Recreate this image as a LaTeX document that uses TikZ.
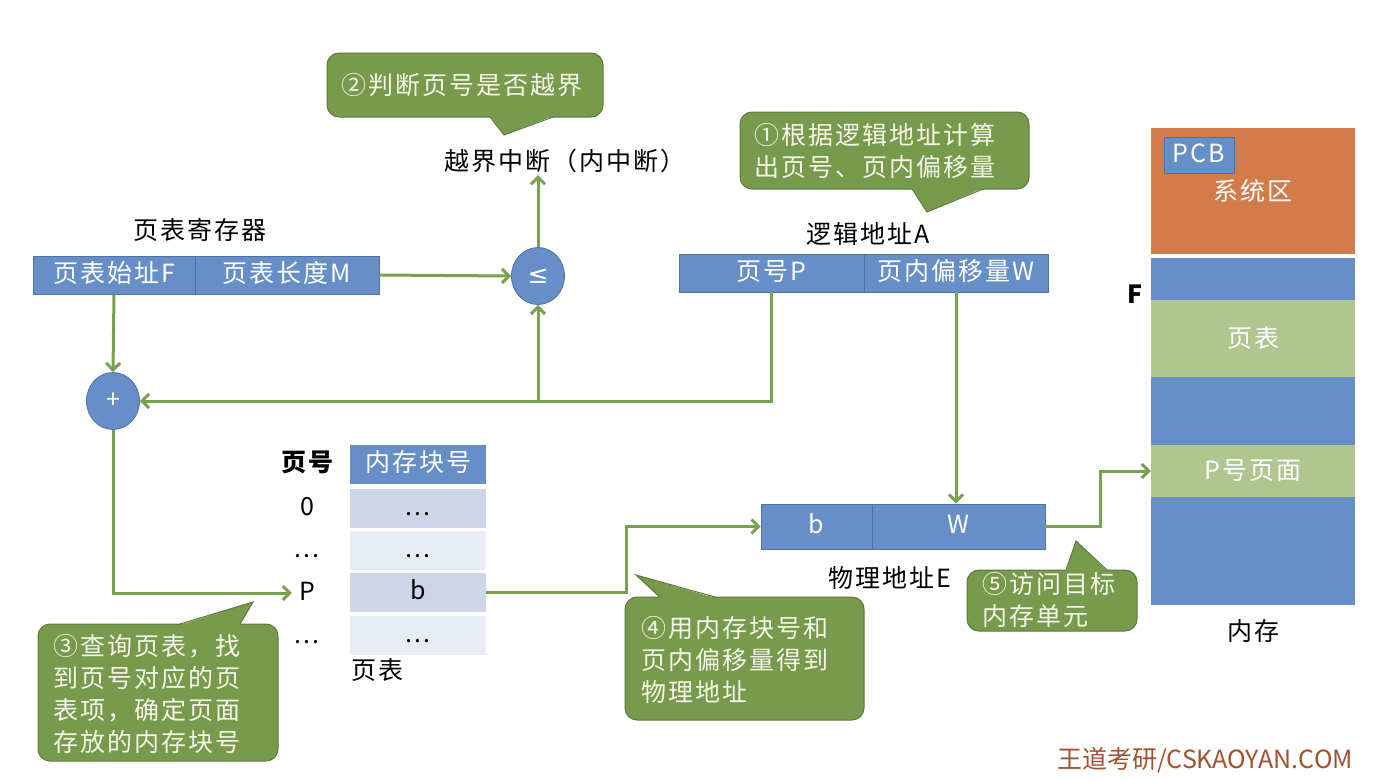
\documentclass[tikz,border=0pt]{standalone}
\usepackage{fontspec}
\setmainfont{Noto Sans CJK SC}[LetterSpace=8]
\newfontfamily\wmfont{Noto Sans CJK SC}
\newfontfamily\dv{DejaVu Sans}
\usetikzlibrary{arrows.meta,shapes.geometric}
\definecolor{bxblue}{RGB}{102,143,200}
\definecolor{bxedge}{RGB}{78,112,165}
\definecolor{cogreen}{RGB}{120,154,76}
\definecolor{coedge}{RGB}{92,122,58}
\definecolor{arrgreen}{RGB}{122,162,78}
\definecolor{memgreen}{RGB}{175,198,142}
\definecolor{sysorange}{RGB}{212,123,74}
\definecolor{rowdark}{RGB}{205,214,233}
\definecolor{rowlight}{RGB}{232,236,245}
\definecolor{wmbrown}{RGB}{160,82,50}
\definecolor{cotext}{RGB}{244,246,232}
\newcommand\myfs{\fontsize{25}{29}\selectfont}
\newcommand\mycfs{\fontsize{25}{32}\selectfont}
\begin{document}
\begin{tikzpicture}[x=1pt,y=-1pt,
  blk/.style={draw=bxedge, line width=0.8pt, fill=bxblue, text=white, minimum height=38pt, inner sep=0pt, font=\myfs, text height=18pt, text depth=4pt},
  ptrow/.style={minimum width=136pt, minimum height=39pt, inner sep=0pt, text=black, font=\myfs, text height=18pt, text depth=4pt},
  lbl/.style={text=black, inner sep=1pt, font=\myfs, text height=18pt, text depth=4pt},
  op/.style={ellipse, draw=bxedge, line width=0.8pt, fill=bxblue, text=white, minimum width=53pt, minimum height=57pt, inner sep=0pt, font=\myfs},
  mem/.style={minimum width=204pt, inner sep=0pt, text=white, font=\myfs},
  conn/.style={draw=arrgreen, line width=3pt, -{Straight Barb[length=7pt,width=14pt,line width=3pt]}},
  callout/.style={fill=cogreen, draw=coedge, line width=1pt, rounded corners=12pt},
  ctext/.style={text=cotext, align=left, font=\mycfs, inner sep=0pt, anchor=west}]
\useasboundingbox (0,0) rectangle (1391,780);
\fill[white] (0,0) rectangle (1391,780);

% page table register
\node[blk, minimum width=162pt] (regF) at (114,275) {页表始址F};
\node[blk, minimum width=184pt] (regM) at (287,275) {页表长度M};
\node[lbl] (reglbl) at (200,232) {页表寄存器};
\node[op] (le) at (538,276) {\dv ≤};
\node[op] (plus) at (113,401) {+};
\node[lbl] (oob) at (565,163) {越界中断（内中断）};

% logical address
\node[blk, minimum width=185pt] (laP) at (771.5,273) {页号P};
\node[blk, minimum width=184pt] (laW) at (956,273) {页内偏移量W};
\node[lbl] (lalbl) at (868,236) {逻辑地址A};

% physical address
\node[blk, minimum width=111pt, minimum height=45pt] (pb) at (816.5,526.5) {b};
\node[blk, minimum width=173pt, minimum height=45pt] (pw) at (958.5,526.5) {W};
\node[lbl] (palbl) at (890,580) {物理地址E};

% page table
\node[blk, draw=none, minimum width=136pt, minimum height=39pt] (pth) at (418,464.5) {内存块号};
\node[ptrow, fill=rowdark] (r0) at (418,508.5) {...};
\node[ptrow, fill=rowlight] (r1) at (418,550.5) {...};
\node[ptrow, fill=rowdark] (r2) at (418,592.5) {b};
\node[ptrow, fill=rowlight] (r3) at (418,635.5) {...};
\node[lbl, font=\myfs\bfseries] (hpg) at (307,464) {页号};
\node[lbl] (n0) at (307,508) {0};
\node[lbl] (n1) at (307,550) {...};
\node[lbl] (nP) at (307,593) {P};
\node[lbl] (n3) at (307,636) {...};
\node[lbl] (ptlbl) at (377,672) {页表};

% memory
\node[mem, fill=sysorange, minimum height=126pt] (sys) at (1253,191) {系统区};
\node[blk, minimum width=70pt, minimum height=36pt] (pcb) at (1199,155) {PCB};
\node[mem, fill=bxblue, minimum height=42pt] (m1) at (1253,279) {};
\node[mem, fill=memgreen, minimum height=77pt] (mpt) at (1253,338.5) {页表};
\node[mem, fill=bxblue, minimum height=68pt] (m2) at (1253,411) {};
\node[mem, fill=memgreen, minimum height=52pt] (mpg) at (1253,471) {P号页面};
\node[mem, fill=bxblue, minimum height=108pt] (m3) at (1253,551) {};
\node[lbl, font=\myfs\bfseries] (F) at (1135,296) {F};
\node[lbl] (memlbl) at (1253,633) {内存};

% connectors
\draw[conn] (regM.east) -- (le.west);
\draw[conn] (regF.south) -- (plus.north);
\draw[conn] (laP.south) -- (laP.south |- plus.east) -- (plus.east);
\draw[conn] (le.south |- plus.east) -- (le.south);
\draw[conn] (le.north) -- (le.north |- oob.south);
\draw[conn] (laW.south) -- (laW.south |- pw.north);
\draw[conn] (plus.south) |- ([xshift=-6pt]nP.west);
\draw[conn] (r2.east) -- ++(140,0) |- (pb.west);
\draw[conn] (pw.east) -- ++(55,0) |- (mpg.west);

% callout 2
\draw[callout] (327,53) rectangle (603,117);
\fill[cogreen] (490,116) -- (504,135) -- (553,116) -- cycle;
\draw[coedge, line width=1pt] (490,117) -- (504,135) -- (553,117);
\node[ctext] (c2) at (341,85) {②判断页号是否越界};

% callout 1
\draw[callout] (740,112) rectangle (1029,189);
\fill[cogreen] (912,188) -- (927,212) -- (983,188) -- cycle;
\draw[coedge, line width=1pt] (912,189) -- (927,212) -- (983,189);
\node[ctext] (c1) at (754,151) {①根据逻辑地址计算\\出页号、页内偏移量};

% callout 3
\draw[callout] (38,624) rectangle (278,761);
\fill[cogreen] (180,625) -- (253,602) -- (240,625) -- cycle;
\draw[coedge, line width=1pt] (180,624) -- (253,602) -- (240,624);
\node[ctext] (c3) at (53,694) {③查询页表，找\\到页号对应的页\\表项，确定页面\\存放的内存块号};

% callout 4
\draw[callout] (625,597) rectangle (864,720);
\fill[cogreen] (660,598) -- (636,575) -- (715,598) -- cycle;
\draw[coedge, line width=1pt] (660,597) -- (636,575) -- (715,597);
\node[ctext] (c4) at (641,660) {④用内存块号和\\页内偏移量得到\\物理地址};

% callout 5
\draw[callout] (967,570) rectangle (1137,631);
\fill[cogreen] (1066,571) -- (1076,541) -- (1107,571) -- cycle;
\draw[coedge, line width=1pt] (1066,570) -- (1076,541) -- (1107,570);
\node[ctext] (c5) at (982,600) {⑤访问目标\\内存单元};

% watermark
\node[text=wmbrown, font=\wmfont\fontsize{25}{29}\selectfont, inner sep=0pt] (wm) at (1205,760) {王道考研/CSKAOYAN.COM};
\end{tikzpicture}
\end{document}
